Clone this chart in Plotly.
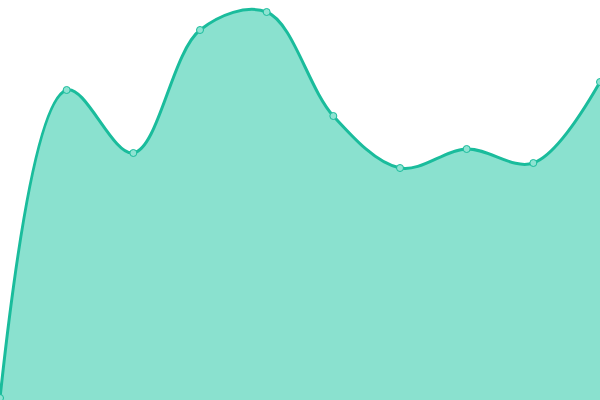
import plotly.graph_objects as go

# Data
x_vals = [0, 1, 2, 3, 4, 5, 6, 7, 8, 9]
y_vals = [2, 310, 247, 370, 388, 284, 232, 251, 237, 318]

trace = go.Scatter(
    x=x_vals, y=y_vals, mode='lines+markers',
    line=dict(color='#1ABC9C', width=3, shape='spline', smoothing=1),
    fill='tozeroy', fillcolor='rgba(22,196,160,0.5)',
    marker=dict(size=7, color='#8EE3D2', line=dict(color='#1ABC9C', width=1)),
    hoverinfo='skip', showlegend=False,
)

layout = go.Layout(
    width=600, height=400,
    margin=dict(l=0, r=0, t=0, b=0),
    paper_bgcolor='white', plot_bgcolor='white',
    xaxis=dict(visible=False, range=[0, 9]),
    yaxis=dict(visible=False, range=[0, 400]),
)

fig = go.Figure(data=[trace], layout=layout)
# drop the default page margin so the chart sits at the top-left corner
fig.write_html("out.html", config={'displayModeBar': False},
               post_script="document.body.style.margin='0';")
